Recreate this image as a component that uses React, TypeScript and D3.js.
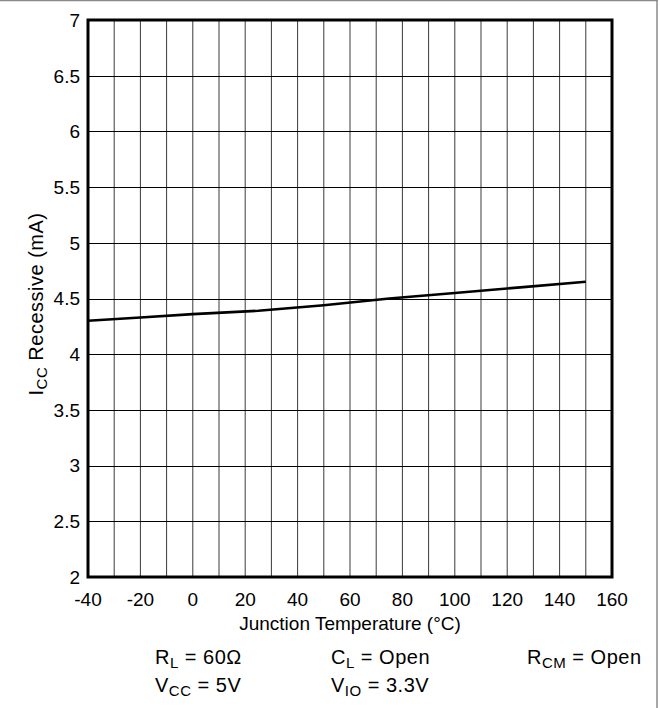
import React from "react";
import * as d3 from "d3";

const xTicks = [-40, -20, 0, 20, 40, 60, 80, 100, 120, 140, 160];
const yTicks = [2, 2.5, 3, 3.5, 4, 4.5, 5, 5.5, 6, 6.5, 7];
const xGrid = d3.range(-30, 160, 10);
const temps = [-40, -20, 0, 25, 50, 75, 100, 125, 150];
const iccValues = [4.3, 4.33, 4.36, 4.39, 4.44, 4.5, 4.55, 4.6, 4.65];

const W = 660;
const H = 708;
const left = 88;
const right = 612;
const top = 20;
const bottom = 577;
const FONT = "'Liberation Sans', Arial, sans-serif";

function Sub({ main, sub, rest, x, y, size = 20 }: { main: string; sub: string; rest: string; x: number; y: number; size?: number }) {
  return (
    <text x={x} y={y} fontSize={size} fill="#000" letterSpacing={0.5}>
      {main}
      <tspan fontSize={15} dy={4}>{sub}</tspan>
      <tspan dy={-4}>{rest}</tspan>
    </text>
  );
}

export default function App() {
  const x = d3.scaleLinear().domain([-40, 160]).range([left, right]);
  const y = d3.scaleLinear().domain([2, 7]).range([bottom, top]);
  const line = d3
    .line<number>()
    .x((_, i) => x(temps[i]))
    .y((d) => y(d));

  return (
    <svg
      width={W}
      height={H}
      style={{ position: "absolute", left: 0, top: 0, background: "#fff" }}
      fontFamily={FONT}
    >
      <rect x={0} y={0} width={W} height={H} fill="#fff" />
      <line x1={0} x2={658} y1={0.5} y2={0.5} stroke="#8a8a8a" strokeWidth={1.5} />
      <line x1={657} x2={657} y1={0} y2={H} stroke="#8a8a8a" strokeWidth={1.5} />

      {xGrid.map((v) => (
        <line key={"xg" + v} x1={x(v)} x2={x(v)} y1={top} y2={bottom} stroke="#3a3a3a" strokeWidth={1} />
      ))}
      {yTicks.slice(1, -1).map((v) => (
        <line key={"yg" + v} x1={left} x2={right} y1={Math.round(y(v)) + 0.5} y2={Math.round(y(v)) + 0.5} stroke="#000" strokeWidth={1} />
      ))}

      <path d={line(iccValues) || ""} fill="none" stroke="#000" strokeWidth={2.6} />

      <rect x={left} y={top} width={right - left} height={bottom - top} fill="none" stroke="#000" strokeWidth={3} />

      {yTicks.map((v) => (
        <text key={"yt" + v} x={80} y={y(v)} dy="0.36em" textAnchor="end" fontSize={19} fill="#000">
          {v}
        </text>
      ))}
      {xTicks.map((v) => (
        <text key={"xt" + v} x={x(v)} y={606} textAnchor="middle" fontSize={19} fill="#000">
          {v}
        </text>
      ))}
      <text x={350} y={630} textAnchor="middle" fontSize={19} fill="#000">
        Junction Temperature (°C)
      </text>
      <text transform="translate(43,304) rotate(-90)" textAnchor="middle" fontSize={20} fill="#000" letterSpacing={0.5}>
        I<tspan fontSize={15} dy={4}>CC</tspan>
        <tspan dy={-4}> Recessive (mA)</tspan>
      </text>

      <Sub main="R" sub="L" rest=" = 60Ω" x={155} y={664} />
      <Sub main="V" sub="CC" rest=" = 5V" x={155} y={692} />
      <Sub main="C" sub="L" rest=" = Open" x={331} y={664} />
      <Sub main="V" sub="IO" rest=" = 3.3V" x={331} y={692} />
      <Sub main="R" sub="CM" rest=" = Open" x={527} y={664} />
    </svg>
  );
}
